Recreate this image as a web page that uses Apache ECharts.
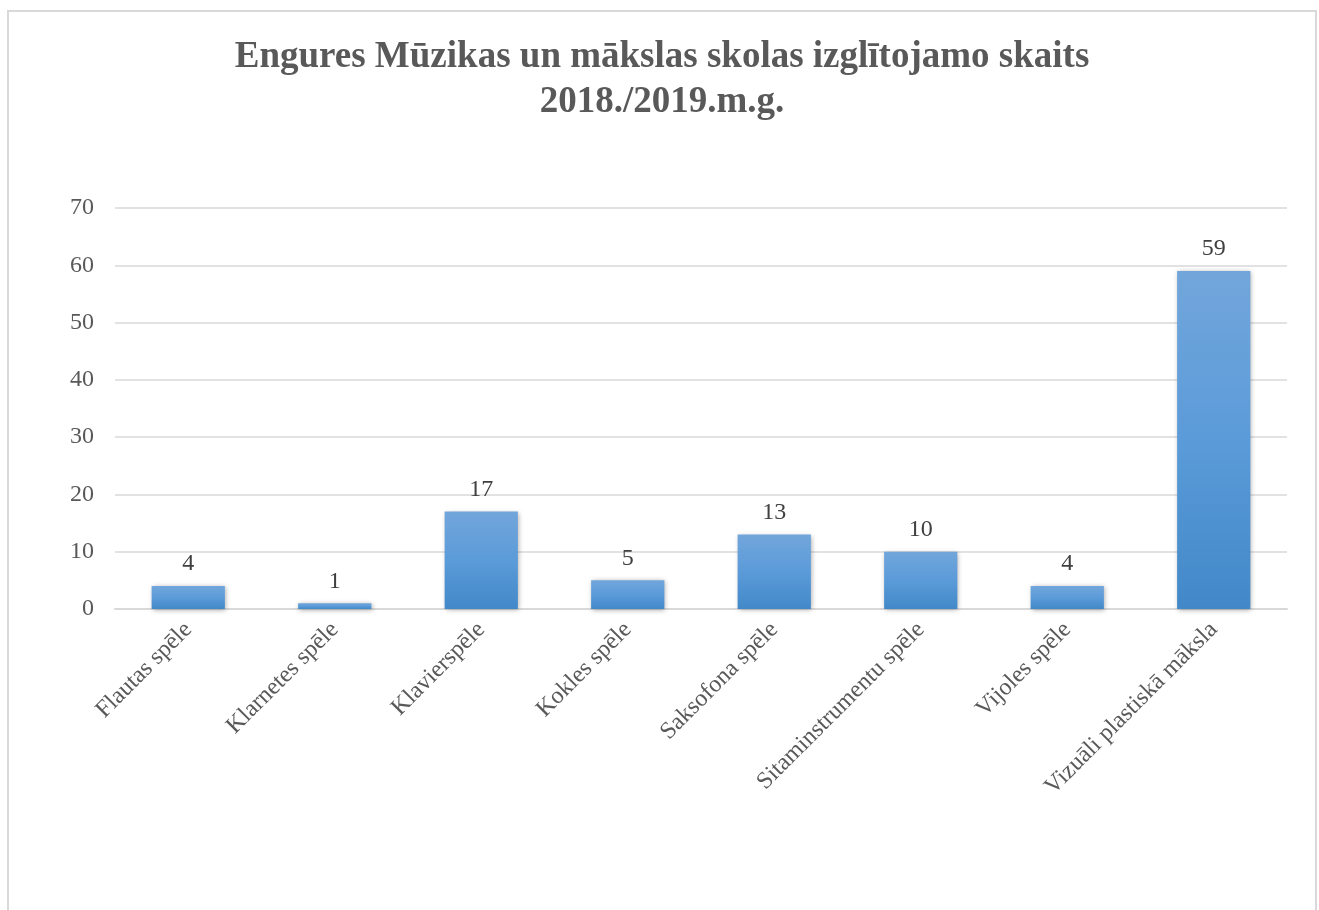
<!DOCTYPE html>
<html>
<head>
<meta charset="utf-8">
<script src="https://cdn.jsdelivr.net/npm/echarts@6/dist/echarts.min.js"></script>
<style>
  html, body { margin: 0; padding: 0; background: #fff; overflow: hidden; }
  .box { position: absolute; left: 7px; top: 10px; width: 1306px; height: 910px;
         border: 2px solid #d9d9d9; background: #fff; }
</style>
</head>
<body>
<div class="box"></div>
<script>
// dati
var categories = ['Flautas spēle', 'Klarnetes spēle', 'Klavierspēle', 'Kokles spēle',
  'Saksofona spēle', 'Sitaminstrumentu spēle', 'Vijoles spēle', 'Vizuāli plastiskā māksla'];
var values = [4, 1, 17, 5, 13, 10, 4, 59];
var titleLines = ['Engures Mūzikas un mākslas skolas izglītojamo skaits', '2018./2019.m.g.'];

(function () {
  var myChart = echarts.init(document.querySelector('.box'));
  var serif = '"Liberation Serif", "DejaVu Serif", serif';
  var option = {
    animation: false,
    title: {
      text: titleLines.join('\n'),
      left: 'center',
      top: 18,
      textStyle: {
        fontFamily: serif,
        fontSize: 37,
        fontWeight: 'bold',
        color: '#595959',
        lineHeight: 45
      }
    },
    grid: {
      left: 106,
      top: 196,
      width: 1172,
      height: 401
    },
    xAxis: {
      type: 'category',
      data: categories,
      axisLine: { lineStyle: { color: '#d9d9d9', width: 2 } },
      axisTick: { show: false },
      axisLabel: {
        rotate: 45,
        margin: 17,
        fontFamily: serif,
        fontSize: 24,
        color: '#595959'
      }
    },
    yAxis: {
      type: 'value',
      min: 0,
      max: 70,
      interval: 10,
      axisLine: { show: false },
      axisTick: { show: false },
      axisLabel: {
        margin: 21,
        fontFamily: serif,
        fontSize: 24,
        color: '#595959'
      },
      splitLine: { lineStyle: { color: '#d9d9d9', width: 1.5 } }
    },
    series: [{
      type: 'bar',
      data: values,
      barWidth: '50%',
      itemStyle: {
        color: new echarts.graphic.LinearGradient(0, 0, 0, 1, [
          { offset: 0, color: '#72a6db' },
          { offset: 0.5, color: '#5b9bd9' },
          { offset: 1, color: '#4288c8' }
        ]),
        shadowColor: 'rgba(0,0,0,0.35)',
        shadowBlur: 5,
        shadowOffsetX: 1,
        shadowOffsetY: 1
      },
      label: {
        show: true,
        position: 'top',
        distance: 10,
        fontFamily: serif,
        fontSize: 24,
        color: '#404040'
      }
    }]
  };
  myChart.setOption(option);
  window.addEventListener('resize', function () {
    myChart.resize();
  });
})();
</script>
</body>
</html>
